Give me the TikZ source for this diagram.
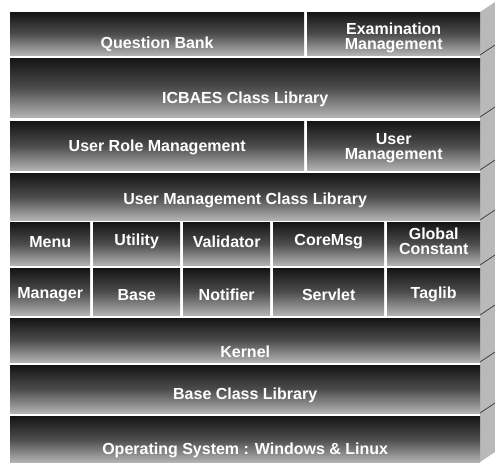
\documentclass[tikz,border=0pt]{standalone}
\usepackage{fontspec}
\setmainfont{Liberation Sans}

\begin{document}
\begin{tikzpicture}[x=1pt,y=-1pt,
  bar/.style={inner sep=0pt,anchor=north west,top color=black!92,bottom color=black!30,middle color=black!70},
  lbl/.style={text=white,font=\fontsize{16}{15}\selectfont\bfseries,align=center,inner sep=0pt}]
\useasboundingbox (0,0) rectangle (495,466);
% side face of the stack
\fill[gray!55] (480,12) -- (495,2) -- (495,452) -- (480,462) -- cycle;
\foreach \yy in {55,117,170,220,265,315,362,413}
  \draw[black!75,line width=0.8pt] (480,\yy) -- (495,\yy-10);
% top layers
\node[bar,minimum width=294,minimum height=43] (qb) at (10,12) {};
\node[lbl] (qbt) at ([yshift=-11pt]qb.center) {Question Bank};
\node[bar,minimum width=173,minimum height=43] (em) at (307,12) {};
\node[lbl] (emt) at ([yshift=-4pt]em.center) {Examination\\Management};
\node[bar,minimum width=470,minimum height=59] (icb) at (10,58) {};
\node[lbl] (icbt) at ([yshift=-12pt]icb.center) {ICBAES Class Library};
% user management layers
\node[bar,minimum width=294,minimum height=49] (urm) at (10,121) {};
\node[lbl] (urmt) at ([yshift=-2pt]urm.center) {User Role Management};
\node[bar,minimum width=173,minimum height=49] (um) at (307,121) {};
\node[lbl] (umt) at ([yshift=-2pt]um.center) {User\\Management};
\node[bar,minimum width=470,minimum height=47] (umcl) at (10,173) {};
\node[lbl] (umclt) at ([yshift=-4pt]umcl.center) {User Management Class Library};
% core packages
\foreach \nm/\xx/\ww/\txt in {menu/10/80/Menu,util/93/87/Utility,valid/183/87/Validator,
    cmsg/273/111/CoreMsg,glob/387/93/{Global\\Constant}} {
  \node[bar,minimum width=\ww,minimum height=43] (\nm) at (\xx,222) {};
  \node[lbl] (\nm t) at ([yshift=2pt]\nm.center) {\txt};
}
\foreach \nm/\xx/\ww/\txt in {mgr/10/80/Manager,base/93/87/Base,notif/183/87/Notifier,
    serv/273/111/Servlet,tlib/387/93/Taglib} {
  \node[bar,minimum width=\ww,minimum height=47] (\nm) at (\xx,268) {};
  \node[lbl] (\nm t) at ([yshift=-3pt]\nm.center) {\txt};
}
% bottom layers
\node[bar,minimum width=470,minimum height=44] (kern) at (10,318) {};
\node[lbl] (kernt) at ([yshift=-12pt]kern.center) {Kernel};
\node[bar,minimum width=470,minimum height=48] (bcl) at (10,365) {};
\node[lbl] (bclt) at ([yshift=-6pt]bcl.center) {Base Class Library};
\node[bar,minimum width=470,minimum height=46] (os) at (10,416) {};
\node[lbl] (ost) at ([yshift=-11pt]os.center) {Operating System : Windows \& Linux};
\end{tikzpicture}
\end{document}
